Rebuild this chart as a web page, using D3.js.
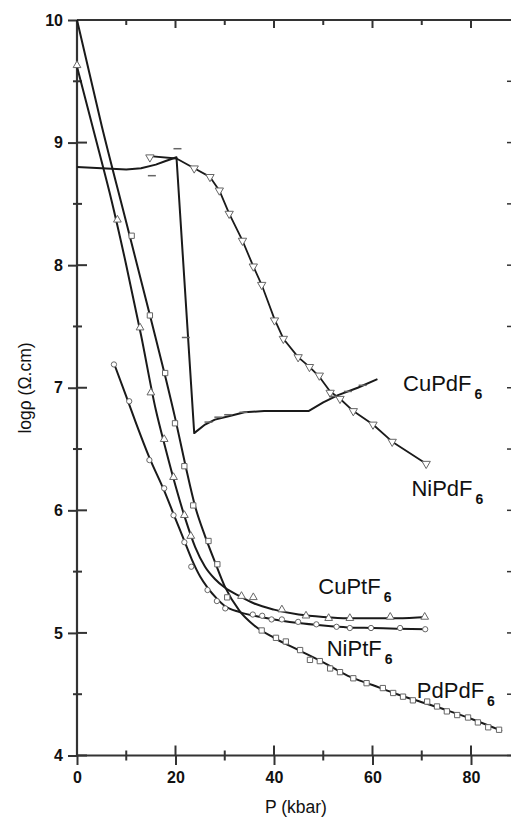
<!DOCTYPE html>
<html><head><meta charset="utf-8">
<script src="https://cdn.jsdelivr.net/npm/d3@7"></script>
<style>body{margin:0;background:#fff}svg{display:block}</style>
</head><body><svg id="c" width="511" height="817"></svg>
<script>
// ---- data (P in kbar, log rho in ohm.cm) ----
const xMajorTicks = [0, 20, 40, 60, 80];
const xMinorTicks = [10, 30, 50, 70];
const yMajorTicks = [4, 5, 6, 7, 8, 9, 10];
const yMinorTicks = [4.5, 5.5, 6.5, 7.5, 8.5, 9.5];

// PdPdF6 (squares)
const pdpdFit = [[0,10],[5,9.14],[10,8.35],[15,7.56],[18,7.08],[20,6.74],[22,6.37],[24,6.03],[26,5.79],[28,5.58],[30,5.38],[33,5.18],[36,5.06],[40,4.96],[45,4.86],[50,4.76],[55,4.65],[60,4.575],[65,4.5],[70,4.435],[75,4.37],[80,4.3],[86.3,4.2]];
const pdpdPts = [[11.1,8.24],[14.8,7.59],[17.9,7.12],[19.9,6.71],[21.8,6.36],[23.6,6.04],[26.7,5.75],[28.5,5.56],[30.5,5.29],[37.5,5.02],[40.4,4.96],[42.4,4.93],[45.3,4.86],[47.3,4.78],[49.3,4.77],[51.4,4.71],[53.4,4.68],[56.1,4.63],[58.8,4.59],[62.1,4.55],[64.2,4.51],[66.2,4.48],[68.2,4.45],[71.1,4.44],[73.1,4.40],[75.1,4.36],[77.2,4.33],[79.4,4.31],[81.4,4.27],[83.5,4.23],[85.7,4.21]];

// CuPtF6 (triangles)
const cuptFit = [[0,9.62],[4,9.0],[7,8.53],[10,8.0],[13,7.43],[16,6.82],[18,6.5],[20,6.2],[22,5.93],[24,5.7],[26,5.54],[28,5.44],[30,5.37],[33,5.3],[36,5.24],[40,5.19],[45,5.15],[50,5.13],[55,5.12],[60,5.12],[65,5.12],[71,5.13]];
const cuptPts = [[0,9.63],[8.2,8.37],[12.8,7.49],[15,6.96],[17.7,6.58],[19.6,6.27],[21.8,5.96],[23.1,5.79],[33.4,5.30],[35.8,5.29],[41.6,5.19],[46.5,5.14],[51.1,5.12],[55.4,5.12],[63.6,5.13],[70.6,5.13]];

// NiPtF6 (circles)
const niptFit = [[7.5,7.2],[10,6.93],[12,6.71],[14.7,6.43],[17.7,6.16],[19.6,5.97],[21.8,5.75],[23.3,5.6],[25,5.46],[26.5,5.37],[28.4,5.28],[30,5.22],[33,5.17],[36,5.14],[40,5.11],[45,5.08],[50,5.06],[55,5.045],[60,5.04],[65,5.035],[71,5.03]];
const niptPts = [[7.5,7.19],[10.6,6.89],[14.7,6.41],[17.7,6.18],[19.6,5.96],[21.8,5.74],[23.2,5.54],[26.5,5.35],[28.4,5.26],[30.1,5.20],[35.7,5.15],[37.6,5.14],[39.5,5.11],[41.6,5.11],[44.9,5.09],[48.6,5.07],[52.7,5.05],[55.4,5.04],[59.7,5.04],[65.6,5.04],[70.7,5.03]];

// CuPdF6 (dashes)
const cupdLine = [[0,8.8],[5,8.79],[10,8.78],[13,8.79],[16,8.82],[18,8.85],[20.2,8.88],[23.8,6.63],[26,6.7],[28,6.74],[31,6.77],[34,6.8],[38,6.81],[47,6.81],[50,6.88],[53,6.94],[57,7.0],[61,7.07]];
const cupdPts = [[15.2,8.73],[20.4,8.95],[22.1,7.41],[26.7,6.72],[28.7,6.76],[30.7,6.78],[33.8,6.80],[52,6.93],[55,6.97],[58,7.02]];

// NiPdF6 (down triangles)
const nipdLine = [[14.8,8.89],[20.2,8.87],[23.8,8.79],[27,8.72],[28.9,8.61],[30.9,8.42],[33.6,8.2],[35.8,7.99],[37.5,7.84],[40.1,7.56],[41.9,7.4],[44.9,7.25],[47.2,7.17],[49.2,7.09],[51.4,6.97],[53.4,6.91],[56.1,6.81],[60.1,6.7],[64,6.56],[70.9,6.38]];
const nipdPts = [[14.8,8.88],[23.8,8.79],[27,8.72],[28.9,8.61],[30.9,8.42],[33.6,8.2],[35.8,7.99],[37.5,7.84],[40.1,7.55],[41.9,7.4],[44.9,7.25],[47.2,7.17],[49.2,7.1],[51.4,6.96],[53.4,6.91],[56.1,6.81],[60.1,6.7],[64,6.56],[70.9,6.38]];

const seriesLabels = [
  {name:"CuPdF", sub:"6", at:[66.2, 6.97]},
  {name:"NiPdF", sub:"6", at:[67.9, 6.12]},
  {name:"CuPtF", sub:"6", at:[49.0, 5.32]},
  {name:"NiPtF", sub:"6", at:[50.7, 4.81]},
  {name:"PdPdF", sub:"6", at:[69.0, 4.47]}
];

// ---- drawing ----
const svg = d3.select("#c");
const x = d3.scaleLinear().domain([0, 88]).range([77, 510.4]);
const y = d3.scaleLinear().domain([4, 10]).range([755.5, 20]);
const axisColor = "#333";
const font = "'Liberation Sans', Arial, sans-serif";

// frame lines
svg.append("line").attr("x1", x(0)).attr("x2", 511).attr("y1", y(10)).attr("y2", y(10)).attr("stroke", axisColor).attr("stroke-width", 2);

// left axis
const gL = svg.append("g").attr("transform", `translate(${x(0)},0)`)
  .call(d3.axisLeft(y).tickValues(yMajorTicks).tickSize(9).tickPadding(5).tickFormat(d3.format("d")));
// bottom axis
const gB = svg.append("g").attr("transform", `translate(0,${y(4)})`)
  .call(d3.axisBottom(x).tickValues(xMajorTicks).tickSize(9.5).tickPadding(7).tickFormat(d3.format("d")));
[gL, gB].forEach(g => {
  g.select(".domain").attr("stroke", axisColor).attr("stroke-width", 2.2);
  g.selectAll(".tick line").attr("stroke", axisColor).attr("stroke-width", 2);
  g.selectAll(".tick text").attr("fill", "#111").style("font-family", font).style("font-size", "16px").style("font-weight", "bold");
});
gB.select(".domain").attr("d", `M${x(0)},0H511`);
gL.select(".domain").attr("d", `M0,${y(4)}V${y(10)}`);

// inner halves of major ticks, minor ticks (crossing axis)
const tk = svg.append("g").attr("stroke", axisColor).attr("stroke-width", 2);
yMajorTicks.forEach(v => tk.append("line").attr("x1", x(0)).attr("x2", x(0) + 10).attr("y1", y(v)).attr("y2", y(v)));
yMinorTicks.forEach(v => tk.append("line").attr("x1", x(0) - 4).attr("x2", x(0) + 5).attr("y1", y(v)).attr("y2", y(v)));
xMajorTicks.forEach(v => tk.append("line").attr("x1", x(v)).attr("x2", x(v)).attr("y1", y(4)).attr("y2", y(4) - 10));
xMinorTicks.forEach(v => tk.append("line").attr("x1", x(v)).attr("x2", x(v)).attr("y1", y(4) + 5).attr("y2", y(4) - 5));
// top ticks (inward)
xMajorTicks.forEach(v => tk.append("line").attr("x1", x(v)).attr("x2", x(v)).attr("y1", y(10)).attr("y2", y(10) + 8));
xMinorTicks.forEach(v => tk.append("line").attr("x1", x(v)).attr("x2", x(v)).attr("y1", y(10)).attr("y2", y(10) + 5));
// right ticks (inward, axis line just off the picture)
yMajorTicks.concat(yMinorTicks).forEach(v => tk.append("line").attr("x1", 507).attr("x2", 512).attr("y1", y(v)).attr("y2", y(v)).attr("stroke-width", 1.5));

// curves
const lineSmooth = d3.line().x(d => x(d[0])).y(d => y(d[1])).curveMonotoneX;
const lineS = d3.line().x(d => x(d[0])).y(d => y(d[1])).curve(d3.curveMonotoneX);
const lineL = d3.line().x(d => x(d[0])).y(d => y(d[1])).curve(d3.curveLinear);
const curveG = svg.append("g").attr("fill", "none").attr("stroke", "#1a1a1a").attr("stroke-width", 2).attr("stroke-linejoin", "round");

// markers first (under lines) for grey look
const mk = svg.append("g").attr("fill", "#fff").attr("stroke", "#666").attr("stroke-width", 1);
const sym = (type, size) => d3.symbol().type(type).size(size);
mk.selectAll(".sq").data(pdpdPts).join("path").attr("d", sym(d3.symbolSquare, 28))
  .attr("transform", d => `translate(${x(d[0])},${y(d[1])})`);
mk.selectAll(".tr").data(cuptPts).join("path").attr("d", sym(d3.symbolTriangle, 26))
  .attr("transform", d => `translate(${x(d[0])},${y(d[1])})`);
mk.selectAll(".ci").data(niptPts).join("path").attr("d", sym(d3.symbolCircle, 22))
  .attr("transform", d => `translate(${x(d[0])},${y(d[1])})`);
mk.selectAll(".dt").data(nipdPts).join("path").attr("d", sym(d3.symbolTriangle, 30))
  .attr("transform", d => `translate(${x(d[0])},${y(d[1])}) rotate(180)`);

curveG.append("path").attr("d", lineS(pdpdFit));
curveG.append("path").attr("d", lineS(cuptFit));
curveG.append("path").attr("d", lineS(niptFit));
curveG.append("path").attr("d", lineL(cupdLine));
curveG.append("path").attr("d", lineL(nipdLine)).attr("stroke-width", 1.8);

// dash markers for CuPdF6
svg.append("g").attr("stroke", "#666").attr("stroke-width", 1.5)
  .selectAll("line").data(cupdPts).join("line")
  .attr("x1", d => x(d[0]) - 4).attr("x2", d => x(d[0]) + 4)
  .attr("y1", d => y(d[1])).attr("y2", d => y(d[1]));

// series labels
const lab = svg.append("g").style("font-family", font).attr("fill", "#111");
seriesLabels.forEach(l => {
  const t = lab.append("text").attr("x", x(l.at[0])).attr("y", y(l.at[1])).style("font-size", "22px");
  t.append("tspan").text(l.name);
  t.append("tspan").text(l.sub).attr("dx", 3).attr("dy", 8).style("font-size", "14px").style("font-weight", "bold");
});

// axis titles
svg.append("text").attr("x", 265).attr("y", 813).text("P (kbar)")
  .style("font-family", font).style("font-size", "17.5px").attr("fill", "#111");
svg.append("text").attr("transform", "translate(31,388) rotate(-90)").attr("text-anchor", "middle")
  .text("logρ (Ω.cm)").style("font-family", font).style("font-size", "17.5px").attr("fill", "#111");
</script>
</body></html>
